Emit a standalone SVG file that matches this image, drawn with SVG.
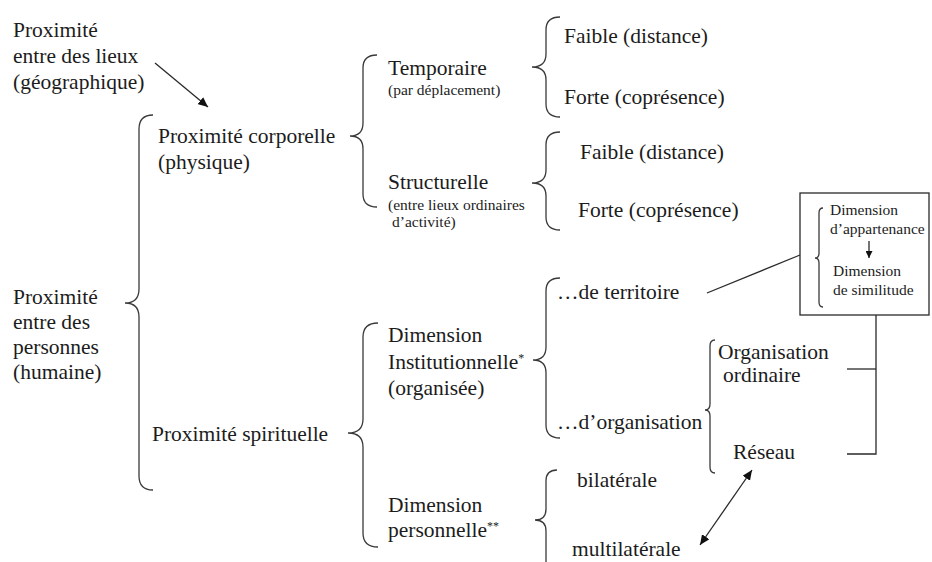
<svg xmlns="http://www.w3.org/2000/svg" width="932" height="562" viewBox="0 0 932 562">
<defs>
<style>
text{font-family:"Liberation Serif","Times New Roman",serif;fill:#1c1c1c;font-size:21.5px}
.s{font-size:15.5px}
.b{font-size:15.5px}
.sup{font-size:12px}
.brace{fill:none;stroke:#3a3a3a;stroke-width:1.3}
.ln{fill:none;stroke:#2a2a2a;stroke-width:1.3}
</style>
<marker id="ah" markerUnits="userSpaceOnUse" markerWidth="11" markerHeight="9" refX="10" refY="4.5" orient="auto-start-reverse"><path d="M0,0 L10,4.5 L0,9 z" fill="#111"/></marker>
<marker id="ahs" markerUnits="userSpaceOnUse" markerWidth="8" markerHeight="7" refX="7" refY="3.5" orient="auto"><path d="M0,0 L7,3.5 L0,7 z" fill="#111"/></marker>
</defs>
<rect width="932" height="562" fill="#fff"/>

<g id="connectors">
<line class="ln" x1="155" y1="63" x2="208" y2="107" marker-end="url(#ah)"/>
<line class="ln" x1="707" y1="293" x2="800" y2="255"/>
<polyline class="ln" points="847,369 876,369"/>
<polyline class="ln" points="876,315 876,454 847,454"/>
<line class="ln" x1="752" y1="470" x2="700" y2="545" marker-start="url(#ah)" marker-end="url(#ah)"/>
</g>

<g id="lieux">
<text x="13" y="37">Proximité</text>
<text x="13" y="63">entre des lieux</text>
<text x="13" y="89">(géographique)</text>
</g>

<g id="personnes">
<text x="13" y="304">Proximité</text>
<text x="13" y="329">entre des</text>
<text x="13" y="354">personnes</text>
<text x="13" y="379">(humaine)</text>
<path class="brace" d="M153,115 Q139,115 139,129 L139,289 Q139,303 125,303 Q139,303 139,317 L139,476 Q139,490 153,490"/>
</g>

<g id="corporelle">
<text x="158" y="143">Proximité corporelle</text>
<text x="158" y="169">(physique)</text>
<path class="brace" d="M377,55 Q363,55 363,68 L363,123 Q363,136 350,136 Q363,136 363,149 L363,194 Q363,207 377,207"/>
</g>

<g id="temporaire">
<text x="388" y="75">Temporaire</text>
<text class="s" x="388" y="95">(par déplacement)</text>
<path class="brace" d="M560,17 Q546,17 546,30 L546,54 Q546,67 532,67 Q546,67 546,80 L546,104 Q546,117 560,117"/>
</g>

<g id="faible1"><text x="564" y="43">Faible (distance)</text></g>
<g id="forte1"><text x="564" y="104">Forte (coprésence)</text></g>

<g id="structurelle">
<text x="388" y="189">Structurelle</text>
<text class="s" x="388" y="210">(entre lieux ordinaires</text>
<text class="s" x="392" y="227">d’activité)</text>
<path class="brace" d="M560,132 Q546,132 546,145 L546,170 Q546,183 532,183 Q546,183 546,196 L546,217 Q546,230 560,230"/>
</g>

<g id="faible2"><text x="580" y="159">Faible (distance)</text></g>
<g id="forte2"><text x="578" y="217">Forte (coprésence)</text></g>

<g id="spirituelle">
<text x="152" y="441">Proximité spirituelle</text>
<path class="brace" d="M378,323 Q363,323 363,337 L363,419 Q363,433 348,433 Q363,433 363,447 L363,533 Q363,547 378,547"/>
</g>

<g id="institutionnelle">
<text x="388" y="342">Dimension</text>
<text x="388" y="369">Institutionnelle<tspan class="sup" dy="-7">*</tspan></text>
<text x="388" y="395">(organisée)</text>
<path class="brace" d="M560,278 Q546,278 546,291 L546,347 Q546,360 533,360 Q546,360 546,373 L546,425 Q546,438 560,438"/>
</g>

<g id="territoire"><text x="557" y="299">…de territoire</text></g>

<g id="organisation">
<text x="557" y="429">…d’organisation</text>
<path class="brace" d="M715,340 Q710,340 710,346 L710,404 Q710,410 705,410 Q710,410 710,416 L710,467 Q710,473 715,473"/>
</g>

<g id="ordinaire">
<text x="718" y="359">Organisation</text>
<text x="723" y="382">ordinaire</text>
</g>

<g id="reseau"><text x="733" y="459">Réseau</text></g>

<g id="personnelle">
<text x="388" y="512">Dimension</text>
<text x="388" y="537">personnelle<tspan class="sup" dy="-7">**</tspan></text>
<path class="brace" d="M557,470 Q546,470 546,481 L546,509 Q546,520 535,520 Q546,520 546,531 L546,575"/>
</g>

<g id="bilaterale"><text x="577" y="487">bilatérale</text></g>
<g id="multilaterale"><text x="572" y="556">multilatérale</text></g>

<g id="dimension-box">
<rect x="800" y="193" width="129" height="122" fill="none" stroke="#2a2a2a" stroke-width="1.3"/>
<path class="brace" d="M823,208 Q819,208 819,213 L819,253 Q819,258 815,258 Q819,258 819,263 L819,302 Q819,307 823,307"/>
<text class="b" x="830" y="215">Dimension</text>
<text class="b" x="830" y="234">d’appartenance</text>
<line class="ln" x1="869" y1="241" x2="869" y2="258" marker-end="url(#ahs)"/>
<text class="b" x="833" y="276">Dimension</text>
<text class="b" x="833" y="295">de similitude</text>
</g>
</svg>
